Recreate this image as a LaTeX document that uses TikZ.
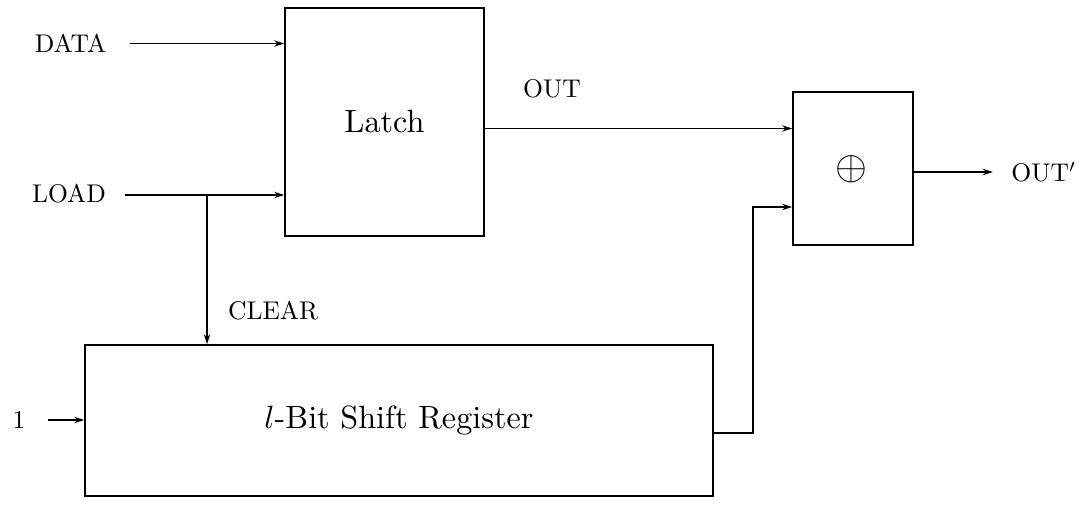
\documentclass[tikz,border=0pt]{standalone}
\usetikzlibrary{arrows.meta}
\newcommand\boxtext[1]{\scalebox{1.61}{#1}}
\newcommand\lbltext[1]{\scalebox{1.28}{#1}}
\begin{document}
\begin{tikzpicture}[x=0.5pt,y=-0.5pt,
  box/.style={draw, line width=0.85pt, inner sep=0pt},
  lbl/.style={inner sep=0pt},
  arr/.style={line width=0.85pt, -{Stealth[length=5pt,width=3.2pt]}}]
\useasboundingbox (0,0) rectangle (1084,508);
% boxes
\node[box, minimum width=99.5pt, minimum height=114pt] (latch) at (384.5,122) {\boxtext{Latch}};
\node[box, minimum width=60pt, minimum height=76.5pt] (xor) at (853,168.5) {};
\node[inner sep=0pt] (plus) at (851,169) {\scalebox{2.05}{$\oplus$}};
\node[box, minimum width=314pt, minimum height=75.5pt] (sr) at (399,420.5) {\boxtext{$l$-Bit Shift Register}};
% labels
\node[lbl] (data) at (70.5,43.5) {\lbltext{DATA}};
\node[lbl] (load) at (69,194) {\lbltext{LOAD}};
\node[lbl] (clear) at (273,311) {\lbltext{CLEAR}};
\node[lbl] (out) at (552,89) {\lbltext{OUT}};
\node[lbl, anchor=west] (outp) at (1011,172) {\lbltext{OUT$'$}};
\node[lbl] (one) at (19,420) {\lbltext{1}};
% connectors
\draw[arr] ([xshift=11.5pt]data.east) -- (data.east -| latch.west);
\draw[arr] ([xshift=9.5pt,yshift=-0.5pt]load.east) -- ([yshift=-0.5pt]load.east -| latch.west);
\coordinate (br) at (207,195);
\draw[arr] (br) -- (br |- sr.north);
\draw[arr] ([yshift=-3.25pt]latch.east) -- ([yshift=-3.25pt]latch.east -| xor.west);
\draw[arr] ([yshift=-6.25pt]sr.east) -- ++(19.5pt,0) |- ([yshift=-19.25pt]xor.west);
\draw[arr] ([yshift=-1.75pt]xor.east) -- ++(39.5pt,0);
\draw[arr] ([xshift=11pt]one.east) -- (one.east -| sr.west);
\end{tikzpicture}
\end{document}
